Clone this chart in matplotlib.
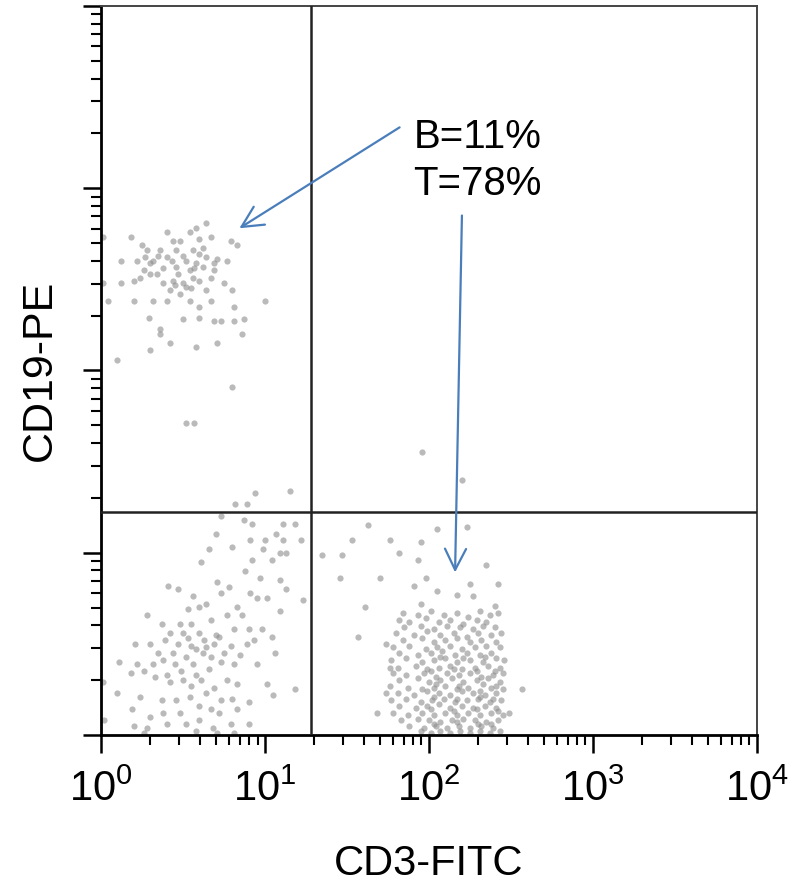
import numpy as np
import matplotlib
matplotlib.use('Agg')
import matplotlib.pyplot as plt

plt.rcParams['font.family'] = ['Liberation Sans', 'DejaVu Sans']
plt.rcParams['mathtext.fontset'] = 'custom'
plt.rcParams['mathtext.rm'] = 'Liberation Sans'

# events as (log10 CD3-FITC, log10 CD19-PE)
b_cells = [
    (0.64, 2.81), (0.58, 2.78), (0.54, 2.76), (0.40, 2.76), (0.44, 2.71), (0.48, 2.71),
    (0.60, 2.72), (0.67, 2.73), (0.79, 2.71), (0.83, 2.69), (0.25, 2.69), (0.18, 2.73),
    (0.28, 2.66), (0.36, 2.66), (0.46, 2.66), (0.56, 2.66), (0.60, 2.64), (0.64, 2.62),
    (0.71, 2.61), (0.77, 2.60), (0.69, 2.59), (0.58, 2.59), (0.52, 2.60), (0.40, 2.62),
    (0.32, 2.60), (0.22, 2.60), (0.12, 2.60), (0.26, 2.55), (0.30, 2.53), (0.24, 2.51),
    (0.34, 2.53), (0.38, 2.48), (0.44, 2.49), (0.50, 2.48), (0.56, 2.51), (0.60, 2.49),
    (0.67, 2.51), (0.69, 2.55), (0.52, 2.46), (0.48, 2.42), (0.42, 2.44), (0.40, 2.38),
    (0.32, 2.38), (0.20, 2.38), (0.04, 2.38), (0.54, 2.38), (0.60, 2.35), (0.67, 2.38),
    (0.60, 2.29), (0.69, 2.27), (0.73, 2.27), (0.81, 2.27), (0.87, 2.28), (0.50, 2.28),
    (0.29, 2.29), (0.36, 2.23), (0.36, 2.20), (0.42, 2.15), (0.30, 2.11), (0.58, 2.13),
    (0.71, 2.15), (0.86, 2.20), (0.81, 2.35), (1.00, 2.38), (0.10, 2.06), (0.80, 1.91),
    (0.01, 2.73), (0.01, 2.48), (0.46, 2.57), (0.54, 2.55), (0.62, 2.57), (0.30, 2.59),
    (0.20, 2.49), (0.12, 2.48), (0.64, 2.44), (0.75, 2.48), (0.80, 2.44), (0.35, 2.63),
    (0.43, 2.60), (0.50, 2.63), (0.57, 2.56), (0.47, 2.53), (0.38, 2.56), (0.62, 2.67),
    (0.27, 2.62), (0.55, 2.45), (0.45, 2.47),
]

dn_cells = [
    (0.73, 1.20), (0.87, 1.18), (0.92, 1.16), (1.11, 1.16), (1.18, 1.16), (0.70, 1.10),
    (0.91, 1.07), (1.00, 1.07), (1.07, 1.10), (1.11, 1.07), (1.22, 1.07), (0.66, 1.02),
    (0.80, 1.03), (0.99, 1.02), (1.09, 1.00), (1.13, 1.00), (0.61, 0.95), (0.92, 0.96),
    (1.04, 0.96), (0.88, 0.90), (0.71, 0.84), (0.78, 0.81), (0.97, 0.86), (1.09, 0.85),
    (1.13, 0.80), (0.41, 0.82), (0.47, 0.80), (0.73, 0.78), (0.91, 0.78), (0.56, 0.76),
    (0.64, 0.72), (0.53, 0.69), (0.60, 0.70), (0.83, 0.70), (0.95, 0.75), (1.01, 0.75),
    (1.23, 0.74), (0.28, 0.66), (0.37, 0.61), (0.48, 0.61), (0.55, 0.61), (0.67, 0.63),
    (0.77, 0.66), (0.86, 0.66), (1.09, 0.68), (0.42, 0.56), (0.50, 0.56), (0.60, 0.56),
    (0.70, 0.55), (0.72, 0.54), (0.81, 0.58), (0.90, 0.58), (0.98, 0.58), (1.04, 0.54),
    (0.21, 0.50), (0.30, 0.50), (0.39, 0.52), (0.47, 0.50), (0.55, 0.49), (0.64, 0.48),
    (0.69, 0.50), (0.79, 0.49), (0.89, 0.50), (0.93, 0.52), (0.11, 0.40), (0.22, 0.39),
    (0.32, 0.39), (0.38, 0.41), (0.45, 0.39), (0.56, 0.39), (0.62, 0.45), (0.67, 0.43),
    (0.73, 0.40), (0.81, 0.39), (0.95, 0.39), (1.06, 0.45), (0.18, 0.34), (0.26, 0.35),
    (0.33, 0.32), (0.42, 0.29), (0.50, 0.30), (0.55, 0.27), (0.61, 0.30), (0.69, 0.26),
    (0.77, 0.30), (0.83, 0.28), (1.01, 0.28), (1.18, 0.25), (0.01, 0.29), (0.10, 0.23),
    (0.24, 0.21), (0.37, 0.19), (0.46, 0.19), (0.54, 0.21), (0.64, 0.23), (0.73, 0.19),
    (0.80, 0.20), (0.90, 0.18), (1.05, 0.22), (0.19, 0.14), (0.30, 0.10), (0.38, 0.12),
    (0.48, 0.12), (0.60, 0.16), (0.67, 0.14), (0.72, 0.12), (0.83, 0.14), (0.02, 0.08),
    (0.20, 0.05), (0.28, 0.04), (0.40, 0.06), (0.52, 0.06), (0.60, 0.08), (0.68, 0.04),
    (0.79, 0.06), (0.90, 0.06), (0.58, 0.02), (0.71, 0.01), (0.81, 0.01), (0.26, 0.01),
    (0.44, 0.45), (0.52, 0.43), (0.58, 0.47), (0.35, 0.45), (0.49, 0.35), (0.58, 0.33),
    (0.66, 0.36), (0.40, 0.33), (0.75, 0.45), (0.85, 0.44), (0.53, 0.53), (0.63, 0.52),
]

t_cells = [
    # sparse upper edge
    (1.63, 1.15), (2.05, 1.13), (2.23, 1.14), (1.53, 1.07), (1.76, 1.07), (1.95, 1.06),
    (1.35, 0.99), (1.47, 0.99), (1.82, 1.00), (1.93, 0.96), (2.35, 0.93), (1.46, 0.86),
    (1.70, 0.86), (1.98, 0.86), (2.25, 0.83), (2.42, 0.83), (1.91, 0.82), (1.61, 0.70),
    (1.57, 0.54), (1.74, 0.50), (1.95, 0.72), (2.05, 0.79), (2.17, 0.77), (2.27, 0.76),
    (2.40, 0.71), (1.68, 0.12), (1.76, 0.37), (1.74, 0.23), (2.57, 0.25), (2.49, 0.12),
    # core
    (1.84, 0.67), (1.93, 0.66), (2.01, 0.68), (2.09, 0.66), (2.17, 0.67), (2.24, 0.65),
    (2.31, 0.68), (2.37, 0.66), (2.42, 0.67),
    (1.82, 0.63), (1.88, 0.62), (1.98, 0.64), (2.06, 0.62), (2.13, 0.63), (2.21, 0.61),
    (2.29, 0.63), (2.35, 0.62),
    (1.85, 0.59), (1.95, 0.60), (2.03, 0.58), (2.11, 0.60), (2.19, 0.59), (2.27, 0.58),
    (2.33, 0.60), (2.40, 0.59),
    (1.80, 0.56), (1.91, 0.55), (1.99, 0.57), (2.07, 0.55), (2.15, 0.56), (2.23, 0.54),
    (2.30, 0.56), (2.38, 0.55), (2.44, 0.56),
    (1.84, 0.52), (1.96, 0.53), (2.03, 0.51), (2.10, 0.52), (2.17, 0.53), (2.25, 0.51),
    (2.32, 0.52), (2.41, 0.51),
    (1.78, 0.48), (1.88, 0.49), (1.98, 0.47), (2.05, 0.48), (2.13, 0.49), (2.20, 0.47),
    (2.28, 0.48), (2.35, 0.49), (2.43, 0.48),
    (1.82, 0.45), (1.93, 0.44), (2.01, 0.45), (2.08, 0.46), (2.16, 0.44), (2.23, 0.45),
    (2.31, 0.44), (2.38, 0.45),
    (2.07, 0.43), (2.21, 0.42), (2.34, 0.43),
    (1.77, 0.41), (1.86, 0.42), (1.96, 0.40), (2.03, 0.41), (2.10, 0.42), (2.17, 0.40),
    (2.25, 0.41), (2.33, 0.40), (2.41, 0.42), (2.46, 0.41),
    (1.81, 0.37), (1.92, 0.38), (1.99, 0.36), (2.06, 0.37), (2.13, 0.38), (2.20, 0.36),
    (2.28, 0.37), (2.36, 0.38), (2.43, 0.37),
    (2.01, 0.35), (2.15, 0.36), (2.29, 0.35), (2.40, 0.35),
    (1.78, 0.34), (1.86, 0.33), (1.97, 0.34), (2.04, 0.32), (2.11, 0.34), (2.18, 0.33),
    (2.25, 0.34), (2.32, 0.32), (2.39, 0.33), (2.45, 0.34),
    (1.82, 0.30), (1.93, 0.31), (2.00, 0.29), (2.07, 0.30), (2.14, 0.31), (2.21, 0.29),
    (2.29, 0.30), (2.36, 0.31), (2.43, 0.29),
    (2.04, 0.28), (2.18, 0.27), (2.33, 0.28), (2.41, 0.27),
    (1.76, 0.27), (1.87, 0.26), (1.96, 0.25), (2.03, 0.26), (2.10, 0.27), (2.17, 0.25),
    (2.24, 0.26), (2.31, 0.24), (2.38, 0.26), (2.45, 0.25),
    (1.81, 0.23), (1.91, 0.22), (1.99, 0.24), (2.06, 0.23), (2.13, 0.22), (2.20, 0.24),
    (2.27, 0.23), (2.34, 0.22), (2.41, 0.23),
    (2.03, 0.21), (2.17, 0.20), (2.31, 0.21), (2.39, 0.20),
    (1.77, 0.19), (1.86, 0.20), (1.95, 0.18), (2.02, 0.19), (2.09, 0.20), (2.16, 0.18),
    (2.23, 0.19), (2.30, 0.20), (2.37, 0.18), (2.44, 0.19),
    (1.82, 0.16), (1.92, 0.15), (1.99, 0.16), (2.06, 0.17), (2.13, 0.15), (2.20, 0.16),
    (2.27, 0.15), (2.34, 0.16), (2.41, 0.15),
    (2.01, 0.14), (2.15, 0.13), (2.29, 0.14), (2.42, 0.13),
    (1.78, 0.12), (1.87, 0.11), (1.96, 0.12), (2.03, 0.11), (2.10, 0.12), (2.17, 0.11),
    (2.24, 0.12), (2.31, 0.11), (2.38, 0.12), (2.45, 0.11),
    (1.83, 0.08), (1.93, 0.09), (2.00, 0.08), (2.07, 0.07), (2.14, 0.08), (2.21, 0.09),
    (2.28, 0.08), (2.35, 0.07), (2.42, 0.08),
    (2.03, 0.06), (2.17, 0.07), (2.30, 0.06), (2.38, 0.06),
    (1.88, 0.05), (1.97, 0.04), (2.04, 0.05), (2.11, 0.04), (2.18, 0.05), (2.25, 0.04),
    (2.32, 0.05), (2.39, 0.04),
    (1.95, 0.02), (2.07, 0.02), (2.19, 0.02), (2.31, 0.02), (2.43, 0.02),
    (2.01, 0.01), (2.13, 0.01), (2.25, 0.01), (2.37, 0.01),
]

stray = [
    (0.52, 1.71), (0.57, 1.71), (1.96, 1.55), (0.94, 1.33), (1.15, 1.34),
    (2.20, 1.40), (0.82, 1.27), (0.89, 1.27),
]

x_ticks = [1, 10, 100, 1000, 10000]
x_ticklabels = [r'$\mathregular{10^{%d}}$' % k for k in range(5)]
cd3_gate = 19.0    # vertical quadrant line
cd19_gate = 16.7   # horizontal quadrant line

fig = plt.figure(figsize=(8.03, 8.84), dpi=100)
ax = fig.add_axes([0.1258, 0.1686, 0.8169, 0.8246])

for pts in (b_cells, dn_cells, t_cells, stray):
    p = np.array(pts)
    ax.scatter(10 ** p[:, 0], 10 ** p[:, 1], s=20, c='#8c8c8c', alpha=0.6,
               linewidths=0, zorder=2)

ax.set_xscale('log')
ax.set_yscale('log')
ax.set_xlim(1, 10000)
ax.set_ylim(1, 10000)

ax.axvline(cd3_gate, color='#222222', lw=1.8, zorder=3)
ax.axhline(cd19_gate, color='#222222', lw=1.8, zorder=3)

ax.set_xticks(x_ticks)
ax.set_xticklabels(x_ticklabels)
ax.set_yticks(x_ticks)
ax.set_yticklabels([])
ax.tick_params(which='major', direction='out', length=13, width=1.8, labelsize=30, pad=12)
ax.tick_params(which='minor', direction='out', length=7, width=1.5)

for side in ('left', 'bottom'):
    ax.spines[side].set_linewidth(2.0)
for side in ('top', 'right'):
    ax.spines[side].set_linewidth(1.4)
    ax.spines[side].set_color('#444444')

ax.set_xlabel('CD3-FITC', fontsize=30)
ax.xaxis.set_label_coords(0.5, -0.15)
ax.set_ylabel('CD19-PE', fontsize=31)
ax.yaxis.set_label_coords(-0.062, 0.5)

ax.text(0.476, 0.847, 'B=11%\nT=78%', transform=ax.transAxes, fontsize=29,
        va='top', ha='left', linespacing=1.3, zorder=5)

arrow = dict(arrowstyle='->', color='#4a7ebb', lw=1.6, mutation_scale=38)
ax.annotate('', xy=(6.75, 592), xytext=(68.4, 2199), arrowprops=arrow, zorder=4)
ax.annotate('', xy=(144.1, 7.53), xytext=(158.9, 734), arrowprops=arrow, zorder=4)

fig.savefig('out.png', dpi=100)
